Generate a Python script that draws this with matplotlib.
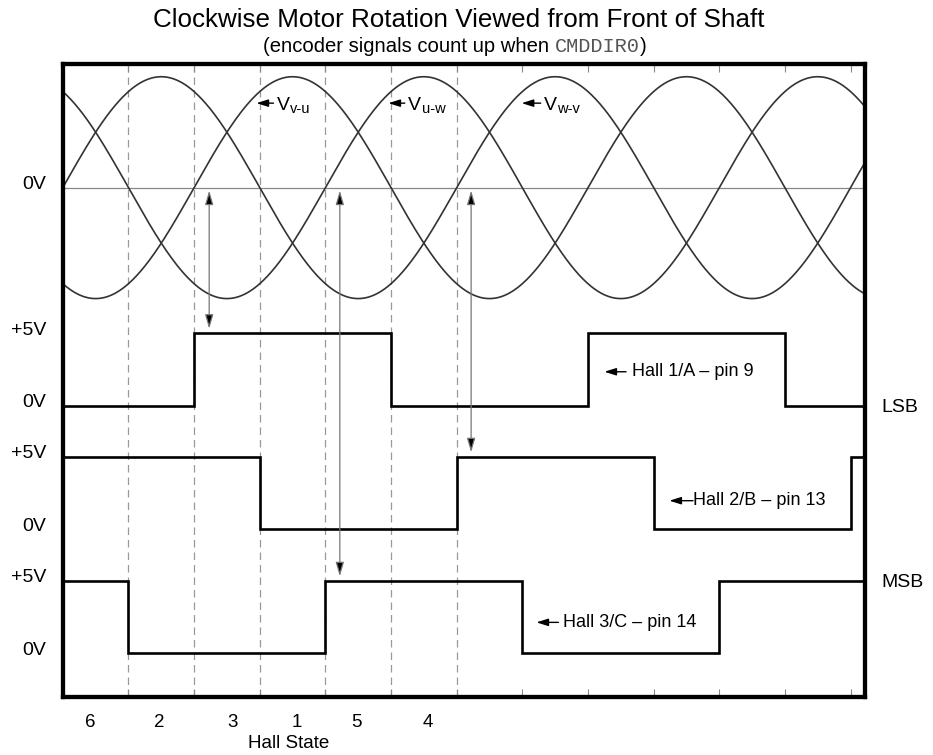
import matplotlib.pyplot as plt
import numpy as np

plt.rcParams["font.family"] = ["Liberation Sans", "DejaVu Sans"]

# sector grid: one unit = 60 electrical degrees
EDGES = list(range(13)) + [12.22]
HALL_A = [0, 0, 1, 1, 1, 0, 0, 0, 1, 1, 1, 0, 0]
HALL_B = [1, 1, 1, 0, 0, 0, 1, 1, 1, 0, 0, 0, 1]
HALL_C = [1, 0, 0, 0, 1, 1, 1, 0, 0, 0, 1, 1, 1]
HALL_NAMES = ["Hall 1/A \u2013 pin 9", "Hall 2/B \u2013 pin 13", "Hall 3/C \u2013 pin 14"]
HIGH_V = 5.0

# back-EMF curves: peak positions (in sectors), period and amplitude
SINE_PEAKS = [1.5, 3.5, 5.5]
SINE_PERIOD = 6.0
SINE_AMP = 7.64
SINE_NAMES = [("v-u", 2.95, 3.26), ("u-w", 4.96, 5.26), ("w-v", 6.99, 7.33)]

HALL_STATES = ["6", "2", "3", "1", "5", "4"]
STATE_POS = [0.42, 1.47, 2.58, 3.57, 4.47, 5.56]
ARROW_X = [2.23, 4.22, 6.22]

# vertical placement of each trace (in volts on a shared scale)
BASE_SINE = 35.08
BASE_A = 20.06
BASE_B = 11.55
BASE_C = 3.01


def label_arrow(ax, tip_x, tail_x, y):
    ax.annotate("", xy=(tip_x, y), xytext=(tail_x, y),
                arrowprops=dict(arrowstyle="-|>,head_length=0.7,head_width=0.22",
                                color="black", lw=1.0, mutation_scale=10,
                                shrinkA=0, shrinkB=0))


def main() -> None:
    fig = plt.figure(figsize=(9.33, 7.55), dpi=100)
    ax = fig.add_axes([62.8 / 933, 1 - 697 / 755, (865 - 62.8) / 933, (697 - 63.8) / 755])
    ax.set_xlim(0, EDGES[-1])
    ax.set_ylim(0, 43.61)

    for s in ax.spines.values():
        s.set_linewidth(3.1)
        s.set_zorder(5)
    ax.set_xticks(range(1, 13))
    ax.set_yticks([])
    ax.tick_params(axis="x", direction="in", length=6, width=0.8, color="#888",
                   top=True, labelbottom=False)

    for x in range(1, 7):
        ax.axvline(x, color="#999", lw=0.9, linestyle=(0, (6, 4)), zorder=1)

    # sine section
    ax.axhline(BASE_SINE, color="#888", lw=0.9, zorder=1)
    u = np.linspace(0, EDGES[-1], 800)
    for peak in SINE_PEAKS:
        ax.plot(u, BASE_SINE + SINE_AMP * np.cos(2 * np.pi * (u - peak) / SINE_PERIOD),
                color="#333", lw=1.2, zorder=2)
    for name, tip, txt in SINE_NAMES:
        label_arrow(ax, tip, txt - 0.05, 40.9)
        v = ax.text(txt, 40.43, "V", fontsize=14, va="baseline", ha="left")
        ax.annotate(name, xy=(1, 0), xycoords=v, xytext=(0.3, -1.2),
                    textcoords="offset points", fontsize=10.5, va="bottom", ha="left")

    # hall sensor traces
    for vals, base in [(HALL_A, BASE_A), (HALL_B, BASE_B), (HALL_C, BASE_C)]:
        ax.stairs([base + HIGH_V * v for v in vals], EDGES, baseline=None,
                  color="black", lw=1.9, zorder=3)

    label_arrow(ax, 8.25, 8.58, 22.40)
    ax.text(8.676, 22.40, HALL_NAMES[0], fontsize=13, va="center", ha="left")
    label_arrow(ax, 9.24, 9.60, 13.52)
    ax.text(9.598, 13.52, HALL_NAMES[1], fontsize=13, va="center", ha="left")
    label_arrow(ax, 7.215, 7.55, 5.14)
    ax.text(7.619, 5.14, HALL_NAMES[2], fontsize=13, va="center", ha="left")

    # arrows linking zero crossings to hall edges
    for x, top_of in zip(ARROW_X, [BASE_A, BASE_C, BASE_B]):
        ax.annotate("", xy=(x, top_of + HIGH_V + 0.3), xytext=(x, BASE_SINE - 0.2),
                    arrowprops=dict(arrowstyle="<|-|>,head_length=0.85,head_width=0.25",
                                    ec="#777", fc="black", lw=0.9, mutation_scale=10,
                                    shrinkA=0, shrinkB=0), zorder=4)

    # left voltage labels
    ytr = ax.get_yaxis_transform()
    levels = [(BASE_SINE, "0V"), (BASE_A + HIGH_V, "+5V"), (BASE_A, "0V"),
              (BASE_B + HIGH_V, "+5V"), (BASE_B, "0V"),
              (BASE_C + HIGH_V, "+5V"), (BASE_C, "0V")]
    for y, lab in levels:
        ax.annotate(lab, xy=(0, y), xycoords=ytr, xytext=(-11.7, 3.6),
                    textcoords="offset points", ha="right", va="center_baseline",
                    fontsize=14, annotation_clip=False)
    ax.annotate("LSB", xy=(1, BASE_A), xycoords=ytr, xytext=(11.5, 0),
                textcoords="offset points", ha="left", va="center_baseline",
                fontsize=14, annotation_clip=False)
    ax.annotate("MSB", xy=(1, BASE_C + HIGH_V), xycoords=ytr, xytext=(11.5, 0),
                textcoords="offset points", ha="left", va="center_baseline",
                fontsize=14, annotation_clip=False)

    # hall state row
    xtr = ax.get_xaxis_transform()
    for x, s in zip(STATE_POS, HALL_STATES):
        ax.text(x, -0.0474, s, transform=xtr, ha="center", va="baseline", fontsize=13.5)
    ax.text(3.443, -0.081, "Hall State", transform=xtr, ha="center", va="baseline",
            fontsize=13.5)

    fig.text(0.492, 1 - 27.3 / 755, "Clockwise Motor Rotation Viewed from Front of Shaft",
             ha="center", va="baseline", fontsize=18.7)
    t1 = fig.text(263 / 933, 1 - 51.7 / 755, "(encoder signals count up when ",
                  ha="left", va="baseline", fontsize=14.6)
    reg = ax.annotate("CMDDIR0", xy=(1, 0), xycoords=t1, fontsize=14.6,
                      family="Liberation Mono", color="#555", ha="left", va="bottom",
                      annotation_clip=False)
    ax.annotate(")", xy=(1, 0), xycoords=reg, fontsize=14.6, ha="left", va="bottom",
                annotation_clip=False)

    fig.savefig("out.png", dpi=100)
    plt.close(fig)


if __name__ == "__main__":
    main()
